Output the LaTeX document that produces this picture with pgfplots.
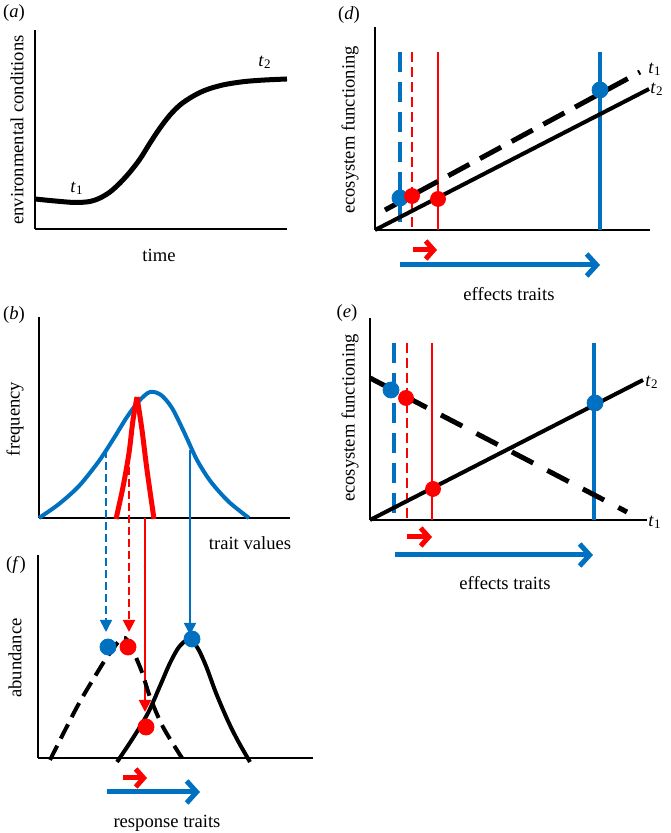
\documentclass[border=0pt]{standalone}
\usepackage{fontspec}
\setmainfont{Liberation Serif}
\usepackage{pgfplots}
\pgfplotsset{compat=1.18}
\usetikzlibrary{arrows.meta}
\definecolor{myblue}{RGB}{0,112,192}
\definecolor{myred}{RGB}{255,0,0}
\pgfplotsset{
  panel/.style={x=0.5pt, y=0.5pt, axis lines=left,
    axis line style={-, line width=0.75pt, black},
    xtick=\empty, ytick=\empty, xmin=0, ymin=0, enlargelimits=false,
    clip=false, anchor=south west,
    every axis y label/.style={rotate=90, anchor=center},
    every axis x label/.style={anchor=center}},
  bigarrow/.style={myblue, line width=2.5pt, -{Straight Barb[length=5pt,width=11pt]}},
  smallarrow/.style={myred, line width=2.5pt, -{Straight Barb[length=4pt,width=9pt]}},
  downtip/.style={-{Triangle[length=6pt,width=6pt]}},
}
\begin{document}
\fontsize{9.3}{11}\selectfont
\begin{tikzpicture}
\path[use as bounding box] (0,0) rectangle (335pt,416.5pt);

% ---------------- (a)
\begin{axis}[panel, at={(17.5pt,302pt)}, xmax=252, ymax=199,
  xlabel={time}, xlabel style={at={(axis cs:124,-26)}},
  ylabel={environmental conditions}, ylabel style={at={(axis cs:-18,99)}}]
\addplot[black, line width=2.5pt, smooth] coordinates {(0,30) (20,28) (40,26.5) (55,27.5) (65,31) (75,37) (85,46) (95,57) (105,70) (115,86) (125,101) (135,114) (145,124) (155,131) (165,136.5) (175,140.5) (190,144.5) (210,147.5) (230,149) (252,150)};
\node at (axis cs:42,41) {\textit{t}\textsubscript{1}};
\node at (axis cs:230,167) {\textit{t}\textsubscript{2}};
\node at (axis cs:-21,216) {(\textit{a})};
\end{axis}

% ---------------- (d)
\begin{axis}[panel, at={(187.5pt,301.5pt)}, xmax=275, ymax=203,
  xlabel={effects traits}, xlabel style={at={(axis cs:134,-64)}},
  ylabel={ecosystem functioning}, ylabel style={at={(axis cs:-25,100)}}]
\addplot[myblue, line width=2pt, dash pattern=on 10pt off 5pt] coordinates {(25,178) (25,0)};
\addplot[myred, line width=1.25pt, dash pattern=on 5pt off 2.5pt] coordinates {(37,178) (37,0)};
\addplot[myred, line width=1.25pt] coordinates {(63,178) (63,0)};
\addplot[myblue, line width=2pt] coordinates {(225,178) (225,0)};
\addplot[black, line width=2pt] coordinates {(0,0) (274,141)};
\addplot[black, line width=2.5pt, dash pattern=on 12pt off 6pt] coordinates {(10,20) (265,158)};
\addplot[only marks, mark=*, mark size=4pt, myblue] coordinates {(25,32) (225,140)};
\addplot[only marks, mark=*, mark size=3.75pt, myred] coordinates {(37,34) (63,31)};
\addplot[bigarrow] coordinates {(25,-35) (225,-35)};
\addplot[smallarrow] coordinates {(38,-20) (62,-20)};
\node at (axis cs:280,161) {\textit{t}\textsubscript{1}};
\node at (axis cs:282,141) {\textit{t}\textsubscript{2}};
\node at (axis cs:-26,215) {(\textit{d})};
\end{axis}

% ---------------- (b)
\begin{axis}[panel, at={(19.5pt,157.5pt)}, xmax=251, ymax=201,
  xlabel={trait values}, xlabel style={at={(axis cs:211,-25)}},
  ylabel={frequency}, ylabel style={at={(axis cs:-24,99)}}]
\addplot[myblue, line width=2pt, smooth] coordinates {(0,0) (20,14) (40,32) (60,57) (75,80) (88,101) (100,117) (111,126) (122,123) (133,110) (145,86) (158,58) (172,36) (190,16) (210,0)};
\addplot[myred, line width=2.5pt, smooth] coordinates {(77,-1) (84,31) (90,65) (94,98) (98,121)};
\addplot[myred, line width=2.5pt, smooth] coordinates {(98,121) (103,88) (108,48) (115,-1)};
\addplot[myblue, line width=0.75pt, dash pattern=on 4pt off 2pt, downtip] coordinates {(67,68) (67,-114)};
\addplot[myred, line width=1pt, dash pattern=on 4pt off 2pt, downtip] coordinates {(90,51) (90,-114)};
\addplot[myred, line width=1pt, downtip] coordinates {(106,0) (106,-194)};
\addplot[myblue, line width=0.75pt, downtip] coordinates {(151,68) (151,-117)};
\node at (axis cs:-25,203) {(\textit{b})};
\end{axis}

% ---------------- (e)
\begin{axis}[panel, at={(185pt,156.5pt)}, xmax=277, ymax=202,
  xlabel={effects traits}, xlabel style={at={(axis cs:135,-63)}},
  ylabel={ecosystem functioning}, ylabel style={at={(axis cs:-20,102)}}]
\addplot[myblue, line width=2pt, dash pattern=on 10pt off 5pt] coordinates {(24,177) (24,0)};
\addplot[myred, line width=1.25pt, dash pattern=on 5pt off 2.5pt] coordinates {(37,177) (37,0)};
\addplot[myred, line width=1.25pt] coordinates {(62,177) (62,0)};
\addplot[myblue, line width=2pt] coordinates {(224,177) (224,0)};
\addplot[black, line width=2pt] coordinates {(0,0) (273,140)};
\addplot[black, line width=2.5pt, dash pattern=on 12pt off 8pt] coordinates {(0,142) (257,8)};
\addplot[only marks, mark=*, mark size=4pt, myblue] coordinates {(21,130) (225,117)};
\addplot[only marks, mark=*, mark size=3.75pt, myred] coordinates {(36,122) (63,31)};
\addplot[bigarrow] coordinates {(25,-35) (223,-35)};
\addplot[smallarrow] coordinates {(37,-17) (62,-17)};
\node at (axis cs:282,138) {\textit{t}\textsubscript{2}};
\node at (axis cs:285,-2) {\textit{t}\textsubscript{1}};
\node at (axis cs:-23,207) {(\textit{e})};
\end{axis}

% ---------------- (f)
\begin{axis}[panel, at={(19pt,37.5pt)}, xmax=275, ymax=203,
  xlabel={response traits}, xlabel style={at={(axis cs:129,-65)}},
  ylabel={abundance}, ylabel style={at={(axis cs:-23,100)}}]
\addplot[black, line width=2pt, dash pattern=on 8pt off 4pt, smooth] coordinates {(12,-2) (39,51) (59,85) (72,105) (87,120) (102,91) (112,61) (125,31) (144,0)};
\addplot[black, line width=2pt, smooth] coordinates {(79,-4) (95,20) (110,45) (122,72) (132,95) (141,111) (150,118) (159,111) (168,92) (178,65) (190,37) (200,17) (212,-4)};
\addplot[only marks, mark=*, mark size=4pt, myblue] coordinates {(70,111) (154,119)};
\addplot[only marks, mark=*, mark size=4pt, myred] coordinates {(90,111) (108,31)};
\addplot[bigarrow] coordinates {(69,-34) (162,-34)};
\addplot[smallarrow] coordinates {(85,-20) (109,-20)};
\node at (axis cs:-22,193) {(\textit{f})};
\end{axis}
\end{tikzpicture}
\end{document}
